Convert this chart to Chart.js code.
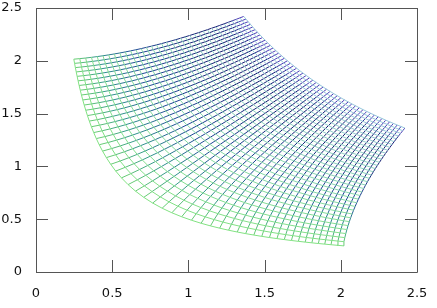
<!DOCTYPE html>
<html>
<head>
<meta charset="utf-8">
<script src="https://cdn.jsdelivr.net/npm/chart.js"></script>
<style>
html, body { margin: 0; padding: 0; background: #fff; }
#wrap { width: 437px; height: 308px; }
</style>
</head>
<body>
<div id="wrap"><canvas id="chart"></canvas></div>
<script>
// Mesh levels: the grid is w = u + i*v, drawn at z = sqrt(w)
const uLevels = [-4.00, -3.84, -3.68, -3.52, -3.36, -3.20, -3.04, -2.88, -2.72, -2.56,
    -2.40, -2.24, -2.08, -1.92, -1.76, -1.60, -1.44, -1.28, -1.12, -0.96,
    -0.80, -0.64, -0.48, -0.32, -0.16, 0.00, 0.16, 0.32, 0.48, 0.64,
    0.80, 0.96, 1.12, 1.28, 1.44, 1.60, 1.76, 1.92, 2.08, 2.24,
    2.40, 2.56, 2.72, 2.88, 3.04, 3.20, 3.36, 3.52, 3.68, 3.84, 4.00];
const vLevels = [1.00, 1.16, 1.32, 1.48, 1.64, 1.80, 1.96, 2.12, 2.28, 2.44,
    2.60, 2.76, 2.92, 3.08, 3.24, 3.40, 3.56, 3.72, 3.88, 4.04,
    4.20, 4.36, 4.52, 4.68, 4.84, 5.00, 5.16, 5.32, 5.48, 5.64,
    5.80, 5.96, 6.12, 6.28, 6.44, 6.60];
const xTicks = [0, 0.5, 1, 1.5, 2, 2.5];
const yTicks = [0, 0.5, 1, 1.5, 2, 2.5];

// where the plot box sits in the reference picture
const boxTop = 8, boxRight = 417;

// colour stops: dark lines (constant u) green -> navy, light lines (constant v) green -> pale teal
const darkStops = [
    [0.00, [110, 210, 115]],
    [0.12, [50, 150, 140]],
    [0.32, [30, 72, 150]],
    [0.75, [20, 25, 110]],
    [0.92, [25, 30, 125]],
    [1.00, [80, 60, 185]]
];
const lightStops = [
    [0.00, [130, 226, 130]],
    [0.40, [135, 215, 175]],
    [1.00, [150, 200, 220]]
];

function colorAt(stops, t) {
    t = Math.max(0, Math.min(1, t));
    for (let i = 1; i < stops.length; i++) {
        const a = stops[i - 1], b = stops[i];
        if (t <= b[0]) {
            const f = (t - a[0]) / (b[0] - a[0]);
            const c = a[1].map((ch, k) => Math.round(ch + (b[1][k] - ch) * f));
            return 'rgb(' + c.join(',') + ')';
        }
    }
    return 'rgb(' + stops[stops.length - 1][1].join(',') + ')';
}

// principal square root of u + i v (v > 0)
function toXY(u, v) {
    const r = Math.sqrt(u * u + v * v);
    return { x: Math.sqrt((r + u) / 2), y: Math.sqrt((r - u) / 2), u: u, v: v };
}

const vMin = vLevels[0], vMax = vLevels[vLevels.length - 1];
const tOf = v => (v - vMin) / (vMax - vMin);

const datasets = [];
// lines of constant v (hyperbola arcs), pale
vLevels.forEach(function(v) {
    const pts = uLevels.map(u => toXY(u, v));
    datasets.push({ data: pts, borderColor: colorAt(lightStops, tOf(v)), borderWidth: 1, showLine: true, pointRadius: 0 });
});
// lines of constant u (inner edge to outer edge), dark
uLevels.forEach(function(u) {
    const pts = vLevels.map(v => toXY(u, v));
    datasets.push({
        data: pts, borderWidth: 1, showLine: true, pointRadius: 0, borderColor: colorAt(darkStops, 0),
        segment: {
            borderColor: ctx => colorAt(darkStops, tOf((pts[ctx.p0DataIndex].v + pts[ctx.p1DataIndex].v) / 2) * 1.04)
        }
    });
});

// box frame with inward ticks on all four sides
const framePlugin = {
    id: 'frame',
    afterDraw(chart) {
        const ctx = chart.ctx, a = chart.chartArea;
        const xs = chart.scales.x, ys = chart.scales.y;
        ctx.save();
        ctx.strokeStyle = '#555';
        ctx.lineWidth = 1;
        ctx.beginPath();
        ctx.rect(Math.round(a.left) + 0.5, Math.round(a.top) + 0.5,
            Math.round(a.right - a.left), Math.round(a.bottom - a.top));
        xTicks.forEach(function(t) {
            const px = Math.round(xs.getPixelForValue(t)) + 0.5;
            ctx.moveTo(px, a.bottom); ctx.lineTo(px, a.bottom - 12);
            ctx.moveTo(px, a.top); ctx.lineTo(px, a.top + 12);
        });
        yTicks.forEach(function(t) {
            const py = Math.round(ys.getPixelForValue(t)) + 0.5;
            ctx.moveTo(a.left, py); ctx.lineTo(a.left + 12, py);
            ctx.moveTo(a.right, py); ctx.lineTo(a.right - 12, py);
        });
        ctx.stroke();
        ctx.restore();
    }
};

const tickFont = { family: 'DejaVu Sans', size: 13 };

const chart = new Chart(document.getElementById('chart'), {
    type: 'scatter',
    data: { datasets: datasets },
    options: {
        responsive: true,
        maintainAspectRatio: false,
        animation: false,
        events: [],
        layout: { autoPadding: false, padding: { top: boxTop, right: 437 - boxRight, left: 0, bottom: 0 } },
        plugins: { legend: { display: false }, tooltip: { enabled: false } },
        scales: {
            x: {
                type: 'linear', min: 0, max: 2.5,
                grid: { display: false, drawTicks: false },
                border: { display: false },
                afterBuildTicks: s => { s.ticks = xTicks.map(v => ({ value: v })); },
                afterFit: s => { s.height = 36; s.paddingLeft = 0; s.paddingRight = 0; },
                ticks: { font: tickFont, color: '#111', padding: 14, maxRotation: 0, callback: v => String(v) }
            },
            y: {
                type: 'linear', min: 0, max: 2.5,
                grid: { display: false, drawTicks: false },
                border: { display: false },
                afterBuildTicks: s => { s.ticks = yTicks.map(v => ({ value: v })); },
                afterFit: s => { s.width = 36; s.paddingTop = 0; s.paddingBottom = 0; },
                ticks: { font: tickFont, color: '#111', padding: 14, callback: v => String(v) }
            }
        }
    },
    plugins: [framePlugin]
});

// nudge the layout padding so the plot box lands where it is in the picture
const area = chart.chartArea;
const pad = chart.options.layout.padding;
pad.top += boxTop - area.top;
pad.right += area.right - boxRight;
chart.update();
</script>
</body>
</html>
